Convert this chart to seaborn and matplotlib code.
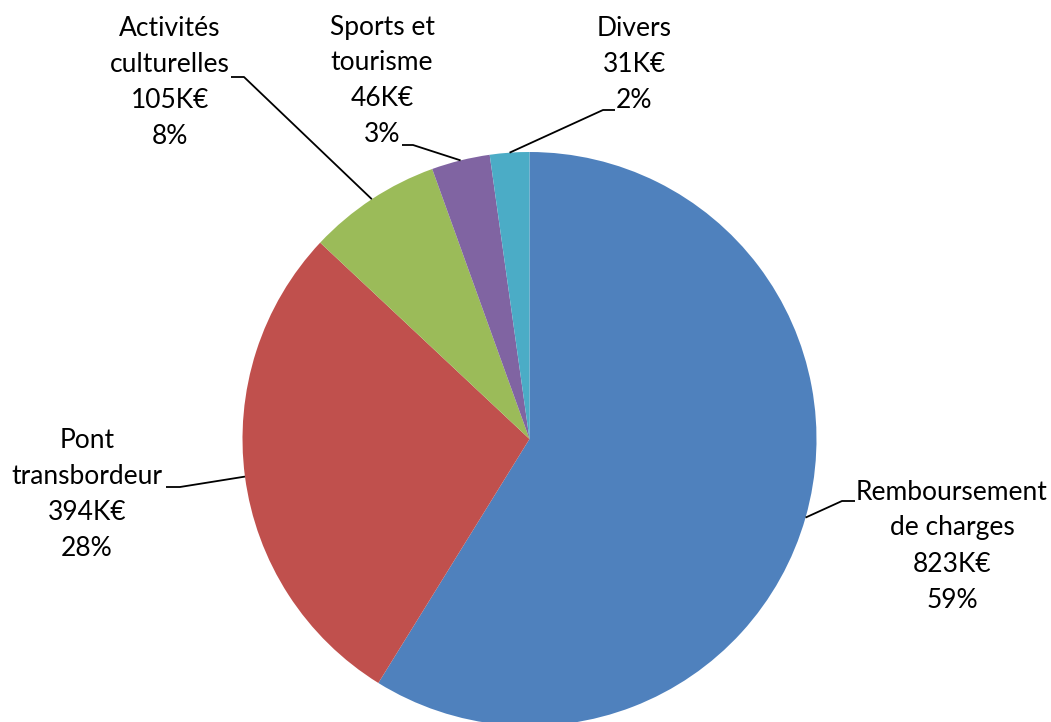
import numpy as np
import seaborn as sns
import matplotlib.pyplot as plt

# Budget categories (K€), clockwise from the top
categories = ["Remboursement\nde charges", "Pont\ntransbordeur", "Activités\nculturelles",
              "Sports et\ntourisme", "Divers"]
values_k = [823, 394, 105, 46, 31]
colors = ["#4F81BD", "#C0504D", "#9BBB59", "#8064A2", "#4BACC6"]

W, H = 1051, 722

# label layout in pixel coordinates (text centre, elbow of leader line, end of leader line)
label_xy = [(952, 546), (87, 494), (170, 82), (382, 81), (634, 64)]
elbow_xy = [(842, 501), (180, 487), (244, 77), (413, 145), (603, 110)]
end_xy = [(855, 501), (166, 487), (231, 77), (402, 145), (615, 110)]


def px(x, y):
    # convert pixel coordinates (origin top-left) to data coordinates
    return x, H - y


sns.set_theme(style="white")
plt.rcParams['font.family'] = ['Lato', 'DejaVu Sans']

fig = plt.figure(figsize=(W / 100, H / 100), dpi=100)
ax = fig.add_axes([0, 0, 1, 1])

cx, cy = px(529.5, 439)
radius = 287
wedges, _ = ax.pie(values_k, colors=sns.color_palette(colors), startangle=90, counterclock=False,
                   center=(cx, cy), radius=radius, wedgeprops=dict(linewidth=0))

total = sum(values_k)
for w, cat, v, lxy, exy, nxy in zip(wedges, categories, values_k, label_xy, elbow_xy, end_xy):
    mid = np.deg2rad((w.theta1 + w.theta2) / 2)
    sx, sy = cx + radius * np.cos(mid), cy + radius * np.sin(mid)
    ex, ey = px(*exy)
    nx, ny = px(*nxy)
    ax.plot([sx, ex, nx], [sy, ey, ny], color="black", lw=1.3, solid_capstyle="butt")
    pct = round(v / total * 100)
    ax.text(*px(*lxy), f"{cat}\n{v}K€\n{pct}%", ha="center", va="center",
            fontsize=19, linespacing=1.55, color="black")

ax.set_xlim(0, W)
ax.set_ylim(0, H)
ax.set_aspect("equal")
ax.axis("off")

fig.savefig("out.png", dpi=100)
